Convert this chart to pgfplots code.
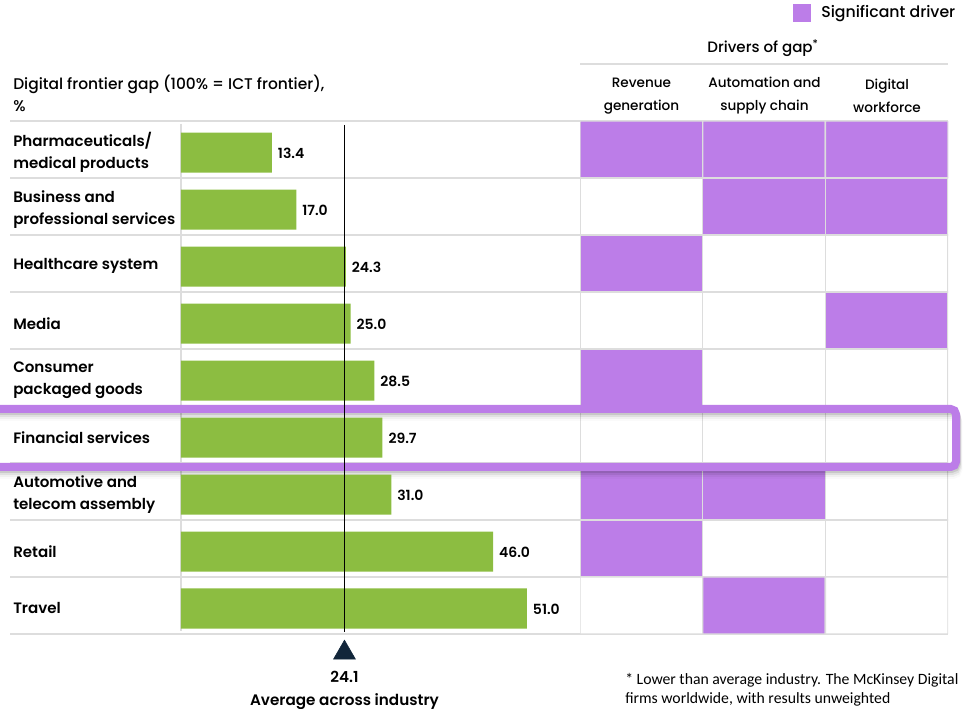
\documentclass[border=0pt]{standalone}
\usepackage{pgfplots}
\pgfplotsset{compat=1.18}
\usepackage{pgfplotstable}
\usepackage{fontspec}
\setmainfont{Poppins}[UprightFont=* Medium, BoldFont=* SemiBold]
\newfontfamily\notefont{Carlito}

\definecolor{bargreen}{HTML}{8CBD41}
\definecolor{drvpurple}{HTML}{BC7DE8}
\definecolor{rulegray}{HTML}{DDDDDD}
\definecolor{marknavy}{HTML}{12263A}

% Digital frontier gap by industry, top to bottom
\pgfplotstableread{
row gap
0 13.4
1 17.0
2 24.3
3 25.0
4 28.5
5 29.7
6 31.0
7 46.0
8 51.0
}\gaptable

% Drivers of gap: 1 = significant driver
% col 0 = revenue generation, 1 = automation and supply chain, 2 = digital workforce
\pgfplotstableread{
col row sig
0 0 1
1 0 1
2 0 1
0 1 0
1 1 1
2 1 1
0 2 1
1 2 0
2 2 0
0 3 0
1 3 0
2 3 1
0 4 1
1 4 0
2 4 0
0 5 0
1 5 0
2 5 0
0 6 1
1 6 1
2 6 0
0 7 1
1 7 0
2 7 0
0 8 0
1 8 1
2 8 0
}\drivertable

\begin{document}
\begin{tikzpicture}
\path[use as bounding box] (0,0) rectangle (723.75pt,531.75pt);
\clip (0,0) rectangle (723.75pt,531.75pt);

% layout in pixel units, y running downwards
\begin{scope}[x=0.75pt,y=-0.75pt,yshift=531.75pt]
  % legend
  \fill[drvpurple] (793,4) rectangle (811,22);
  \node[anchor=west,inner sep=0,font=\fontsize{11.8}{13}\selectfont] at (821,13.5) {Significant driver};
  % column group header
  \node[font=\fontsize{11.3}{13}\selectfont] at (763,48) {Drivers of gap\textsuperscript{*}};
  \draw[rulegray,line width=1.2pt] (580,64) -- (948,64);
  \foreach \cx/\txt in {641.5/{Revenue\\generation},764.5/{Automation and\\supply chain},887/{Digital\\workforce}}
    \node[align=center,font=\fontsize{10.2}{17.25}\selectfont] at (\cx,96) {\txt};
  % left header
  \node[anchor=west,align=left,inner sep=0,font=\fontsize{11.6}{16}\selectfont] at (13,93.5)
    {Digital frontier gap (100\% = ICT frontier),\\\%};
  % row rules
  \foreach \yy in {121,178,235,292,349,406,463,520,577,634}
    \draw[rulegray,line width=1.2pt] (10,\yy) -- (948,\yy);
  \draw[rulegray,line width=1pt] (181,124) -- (181,631);
  % footnote
  \node[anchor=west,align=left,inner sep=0,font=\notefont\fontsize{11.8}{14.3}\selectfont] at (625,689.5)
    {* Lower than average industry. The McKinsey Digital\\firms worldwide, with results unweighted};
\end{scope}

% drivers matrix
\begin{axis}[
  at={(435pt,56.25pt)}, anchor=south west,
  scale only axis, width=276pt, height=384.75pt,
  xmin=-0.5, xmax=2.5, ymin=-0.5, ymax=8.5, y dir=reverse,
  hide axis,
  colormap={drivers}{color=(white) color=(drvpurple)},
  point meta min=0, point meta max=1,
]
\addplot[matrix plot*, mesh/cols=3, point meta=explicit, draw=rulegray, line width=1pt]
  table[x=col, y=row, meta=sig] \drivertable;
\end{axis}

% highlighted row
\begin{scope}[x=0.75pt,y=-0.75pt,yshift=531.75pt]
  \foreach \off/\op in {2/0.10,4/0.07,6/0.04,8/0.02}
    \draw[black,opacity=\op,line width=6pt,rounded corners=4pt]
      (-20,409+\off) -- (956+\off*0.3,409+\off) -- (956+\off*0.3,467+\off) -- (-20,467+\off);
  \draw[drvpurple,line width=6pt,rounded corners=4pt]
    (-20,409) -- (956,409) -- (956,467) -- (-20,467);
\end{scope}

% gap bars
\begin{axis}[
  at={(135.75pt,56.25pt)}, anchor=south west,
  scale only axis, width=305.25pt, height=384.75pt,
  xmin=0, xmax=60, ymin=-0.5, ymax=8.5, y dir=reverse,
  axis line style={draw=none}, major tick length=0pt,
  xtick=\empty, ytick=data,
  yticklabels={{Pharmaceuticals/\\medical products},{Business and\\professional services},
    {Healthcare system},{Media},{Consumer\\packaged goods},{Financial services},
    {Automotive and\\telecom assembly},{Retail},{Travel}},
  yticklabel style={anchor=west, align=left, inner xsep=0pt, xshift=-126pt, yshift=-2pt,
    font=\bfseries\fontsize{11.3}{16.5}\selectfont},
  /pgf/number format/assume math mode=true,
  clip=false,
]
\addplot[xbar, bar width=30pt, bar shift=-2.25pt, fill=bargreen, draw=none,
  point meta=x,
  nodes near coords={\pgfmathprintnumber[fixed,fixed zerofill,precision=1]{\pgfplotspointmeta}},
  nodes near coords style={anchor=west, xshift=1pt, yshift=-3pt, text=black, font=\bfseries\fontsize{10.5}{12}\selectfont}]
  table[x=gap, y=row] \gaptable;
% industry average
\addplot[black, line width=0.9pt] coordinates {(24.1,-0.43) (24.1,8.46)};
\addplot[only marks, mark=triangle*, mark size=9.5pt, color=marknavy] coordinates {(24.1,8.83)};
\node[align=center, font=\bfseries\fontsize{11.4}{17.25}\selectfont] at (axis cs:24.1,9.49)
  {24.1\\Average across industry};
\end{axis}
\end{tikzpicture}
\end{document}
